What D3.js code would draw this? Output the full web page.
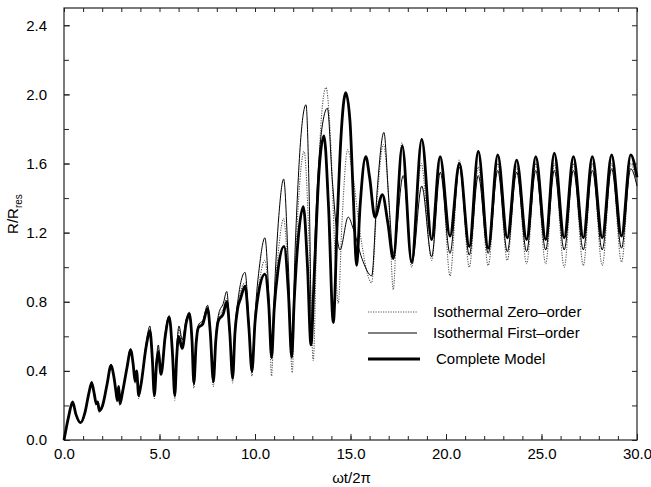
<!DOCTYPE html>
<html>
<head>
<meta charset="utf-8">
<script src="https://cdn.jsdelivr.net/npm/d3@7"></script>
<style>
  body { margin: 0; background: #fff; }
  svg { font-family: "Liberation Sans", Arial, sans-serif; }
  .tick text { font-size: 15px; fill: #000; }
  .tick line { stroke: #222; }
</style>
</head>
<body>
<div id="chart"></div>
<script>
// [wt/2pi, R/Rres]
var zeroOrder = [
  [0.00,0.00],[0.25,0.14],[0.45,0.22],[0.62,0.15],[0.87,0.10],[1.10,0.16],[1.30,0.27],[1.45,0.33],
  [1.58,0.27],[1.69,0.20],[1.76,0.22],[1.85,0.16],[2.02,0.20],[2.25,0.32],[2.46,0.43],[2.62,0.36],
  [2.72,0.27],[2.79,0.22],[2.86,0.31],[2.93,0.20],[3.07,0.28],[3.30,0.42],[3.49,0.52],[3.62,0.44],
  [3.72,0.33],[3.80,0.40],[3.91,0.24],[4.03,0.32],[4.30,0.55],[4.50,0.64],[4.62,0.48],[4.73,0.24],
  [4.85,0.46],[4.94,0.53],[5.08,0.38],[5.30,0.61],[5.51,0.71],[5.68,0.48],[5.80,0.23],[5.90,0.50],
  [6.02,0.64],[6.19,0.56],[6.40,0.69],[6.56,0.73],[6.70,0.57],[6.80,0.30],[6.92,0.56],[7.05,0.66],
  [7.26,0.68],[7.52,0.77],[7.66,0.60],[7.82,0.31],[7.95,0.58],[8.10,0.71],[8.34,0.76],[8.52,0.82],
  [8.68,0.60],[8.83,0.33],[8.95,0.62],[9.12,0.79],[9.48,0.91],[9.68,0.64],[9.84,0.37],[10.00,0.68],
  [10.25,0.93],[10.52,1.04],[10.72,0.78],[10.87,0.37],[11.00,0.76],[11.25,1.12],[11.50,1.28],[11.75,0.90],
  [11.95,0.39],[12.10,0.95],[12.35,1.50],[12.57,1.67],[12.85,1.10],[13.05,0.46],[13.25,1.30],[13.50,1.90],
  [13.72,2.04],[13.95,1.75],[14.20,1.05],[14.36,0.79],[14.55,1.25],[14.85,1.68],[15.10,1.55],[15.50,1.20],
  [16.11,0.91],[16.40,1.40],[16.72,1.71],[17.00,1.40],[17.24,0.87],[17.45,1.35],[17.70,1.72],[18.20,1.00],
  [18.70,1.60],[19.25,1.04],[19.72,1.64],[20.21,0.95],[20.70,1.62],[21.22,1.00],[21.69,1.58],[22.21,1.01],
  [22.71,1.60],[23.21,1.04],[23.70,1.58],[24.22,1.02],[24.70,1.60],[25.22,1.02],[25.67,1.60],[26.19,1.00],
  [26.67,1.60],[27.19,1.01],[27.66,1.60],[28.18,1.01],[28.67,1.60],[29.19,1.03],[29.67,1.60],[30.00,1.48]
];

var firstOrder = [
  [0.00,0.00],[0.25,0.14],[0.45,0.22],[0.62,0.15],[0.87,0.10],[1.10,0.16],[1.30,0.27],[1.45,0.34],
  [1.58,0.27],[1.69,0.21],[1.76,0.22],[1.85,0.17],[2.02,0.20],[2.25,0.32],[2.46,0.44],[2.62,0.36],
  [2.72,0.28],[2.79,0.23],[2.86,0.31],[2.93,0.21],[3.07,0.28],[3.30,0.43],[3.49,0.53],[3.62,0.44],
  [3.72,0.34],[3.80,0.40],[3.91,0.25],[4.03,0.32],[4.30,0.56],[4.50,0.66],[4.62,0.49],[4.73,0.25],
  [4.85,0.48],[4.94,0.55],[5.08,0.39],[5.30,0.62],[5.51,0.72],[5.68,0.50],[5.80,0.25],[5.90,0.52],
  [6.02,0.66],[6.19,0.58],[6.40,0.70],[6.56,0.74],[6.70,0.58],[6.80,0.32],[6.92,0.57],[7.05,0.67],
  [7.26,0.69],[7.52,0.78],[7.66,0.62],[7.82,0.33],[7.95,0.60],[8.10,0.73],[8.34,0.79],[8.52,0.86],
  [8.68,0.64],[8.83,0.35],[8.95,0.64],[9.12,0.82],[9.48,0.97],[9.68,0.68],[9.84,0.39],[10.00,0.72],
  [10.25,1.02],[10.52,1.17],[10.72,0.85],[10.87,0.47],[11.00,0.82],[11.25,1.30],[11.50,1.51],[11.75,1.00],
  [11.92,0.52],[12.10,1.10],[12.40,1.75],[12.67,1.94],[12.85,1.35],[12.97,0.60],[13.15,1.20],[13.50,1.80],
  [13.79,1.92],[14.05,1.50],[14.45,1.10],[14.88,1.29],[15.15,1.22],[15.60,1.05],[16.11,0.95],[16.40,1.45],
  [16.75,1.78],[17.00,1.40],[17.24,1.08],[17.76,1.53],[18.22,1.02],[18.73,1.47],[19.25,1.06],[19.70,1.55],
  [20.21,1.08],[20.70,1.58],[21.22,1.07],[21.69,1.53],[22.21,1.08],[22.71,1.56],[23.21,1.09],[23.70,1.55],
  [24.22,1.09],[24.70,1.56],[25.22,1.10],[25.67,1.56],[26.19,1.10],[26.67,1.56],[27.19,1.10],[27.66,1.56],
  [28.18,1.10],[28.67,1.57],[29.19,1.11],[29.67,1.57],[30.00,1.47]
];

var complete = [
  [0.00,0.00],[0.25,0.14],[0.45,0.22],[0.62,0.15],[0.87,0.10],[1.10,0.16],[1.30,0.27],[1.45,0.33],
  [1.58,0.27],[1.69,0.21],[1.76,0.22],[1.85,0.17],[2.02,0.20],[2.25,0.32],[2.46,0.43],[2.62,0.36],
  [2.72,0.28],[2.79,0.23],[2.86,0.31],[2.93,0.21],[3.07,0.28],[3.30,0.42],[3.49,0.52],[3.62,0.44],
  [3.72,0.34],[3.80,0.40],[3.91,0.26],[4.03,0.32],[4.30,0.54],[4.50,0.63],[4.62,0.48],[4.73,0.26],
  [4.85,0.45],[4.94,0.51],[5.08,0.38],[5.30,0.60],[5.51,0.71],[5.68,0.50],[5.80,0.26],[5.90,0.48],
  [6.00,0.60],[6.19,0.53],[6.40,0.68],[6.56,0.73],[6.70,0.58],[6.80,0.33],[6.92,0.56],[7.03,0.65],
  [7.26,0.67],[7.52,0.76],[7.66,0.62],[7.82,0.34],[7.95,0.58],[8.08,0.69],[8.34,0.73],[8.52,0.80],
  [8.68,0.62],[8.83,0.36],[8.95,0.62],[9.09,0.76],[9.25,0.82],[9.48,0.89],[9.68,0.65],[9.84,0.40],
  [10.00,0.68],[10.20,0.86],[10.52,0.96],[10.72,0.78],[10.87,0.48],[11.00,0.75],[11.20,0.98],[11.52,1.12],
  [11.75,0.85],[11.92,0.48],[12.05,0.80],[12.25,1.15],[12.53,1.35],[12.75,1.00],[12.93,0.55],[13.10,0.95],
  [13.35,1.55],[13.61,1.76],[13.85,1.35],[14.10,0.68],[14.30,1.25],[14.50,1.75],[14.75,2.01],[14.97,1.85],
  [15.15,1.40],[15.32,1.01],[15.50,1.35],[15.80,1.64],[16.00,1.52],[16.28,1.29],[16.67,1.42],[16.95,1.26],
  [17.24,1.05],[17.71,1.70],[18.20,1.03],[18.73,1.74],[19.25,1.16],[19.69,1.64],[20.21,1.18],[20.70,1.60],
  [21.22,1.12],[21.69,1.67],[22.21,1.11],[22.71,1.65],[23.21,1.17],[23.70,1.62],[24.22,1.16],[24.70,1.64],
  [25.22,1.16],[25.67,1.66],[26.19,1.17],[26.67,1.64],[27.19,1.17],[27.66,1.64],[28.18,1.17],[28.67,1.65],
  [29.19,1.18],[29.67,1.65],[30.00,1.52]
];

var xMajor = [0, 5, 10, 15, 20, 25, 30];
var yMajor = [0.0, 0.4, 0.8, 1.2, 1.6, 2.0, 2.4];
var legendNames = ["Isothermal Zero\u2013order", "Isothermal First\u2013order", "Complete Model"];

(function () {
    var W = 651, H = 487;
    var mLeft = 64, mRight = 637, mTop = 8, mBottom = 440;

    var svg = d3.select('#chart')
        .append('svg')
        .attr('width', W)
        .attr('height', H);

    var x = d3.scaleLinear().domain([0, 30]).range([mLeft, mRight]);
    var y = d3.scaleLinear().domain([0, 2.5]).range([mBottom, mTop]);

    // frame
    svg.append('rect')
        .attr('x', mLeft).attr('y', mTop)
        .attr('width', mRight - mLeft).attr('height', mBottom - mTop)
        .attr('fill', 'none')
        .attr('stroke', '#222')
        .attr('stroke-width', 1.2);

    // ticks, all pointing inwards
    var xMinor = d3.range(0, 31, 1);
    var yMinor = d3.range(0, 2.5, 0.2);

    function tickAxis(axis, pos, values, size) {
        var g = svg.append('g')
            .attr('transform', pos)
            .call(axis.tickValues(values).tickSize(-size).tickFormat(''));
        g.select('.domain').remove();
        return g;
    }
    tickAxis(d3.axisBottom(x), 'translate(0,' + mBottom + ')', xMinor, 4);
    tickAxis(d3.axisTop(x), 'translate(0,' + mTop + ')', xMinor, 4);
    tickAxis(d3.axisLeft(y), 'translate(' + mLeft + ',0)', yMinor, 5);
    tickAxis(d3.axisRight(y), 'translate(' + mRight + ',0)', yMinor, 5);

    var gx = svg.append('g')
        .attr('transform', 'translate(0,' + mBottom + ')')
        .call(d3.axisBottom(x).tickValues(xMajor).tickSize(-6).tickPadding(8).tickFormat(d3.format('.1f')));
    gx.select('.domain').remove();

    var gy = svg.append('g')
        .attr('transform', 'translate(' + mLeft + ',0)')
        .call(d3.axisLeft(y).tickValues(yMajor).tickSize(-6).tickPadding(17).tickFormat(d3.format('.1f')));
    gy.select('.domain').remove();

    // axis titles
    svg.append('text')
        .attr('x', (mLeft + mRight) / 2 + 1)
        .attr('y', 483)
        .attr('text-anchor', 'middle')
        .style('font-size', '15px')
        .text('\u03c9t/2\u03c0');

    var yt = svg.append('text')
        .attr('transform', 'translate(18,214) rotate(-90)')
        .attr('text-anchor', 'middle')
        .style('font-size', '15px');
    yt.append('tspan').text('R/R');
    yt.append('tspan').attr('dy', 4).style('font-size', '10px').text('res');

    // curves
    var line = d3.line()
        .x(function (d) { return x(d[0]); })
        .y(function (d) { return y(d[1]); })
        .curve(d3.curveMonotoneX);

    var styles = [
        { data: zeroOrder, width: 1.1, color: '#555', dash: '1.2,1.3' },
        { data: firstOrder, width: 1.0, color: '#000', dash: null },
        { data: complete, width: 2.8, color: '#000', dash: null }
    ];

    styles.forEach(function (s) {
        svg.append('path')
            .datum(s.data)
            .attr('d', line)
            .attr('fill', 'none')
            .attr('stroke', s.color)
            .attr('stroke-width', s.width)
            .attr('stroke-dasharray', s.dash)
            .attr('stroke-linejoin', 'round');
    });

    // legend
    var legend = svg.append('g').attr('transform', 'translate(368,312)');
    var rowY = [0, 21, 47];
    styles.forEach(function (s, i) {
        legend.append('line')
            .attr('x1', 0).attr('x2', 49 + (i === 2 ? 3 : 0))
            .attr('y1', rowY[i]).attr('y2', rowY[i])
            .attr('stroke', s.color)
            .attr('stroke-width', s.width)
            .attr('stroke-dasharray', s.dash);
        legend.append('text')
            .attr('x', i === 2 ? 68 : 65)
            .attr('y', rowY[i])
            .attr('dy', '0.35em')
            .style('font-size', '15px')
            .text(legendNames[i]);
    });
})();
</script>
</body>
</html>
